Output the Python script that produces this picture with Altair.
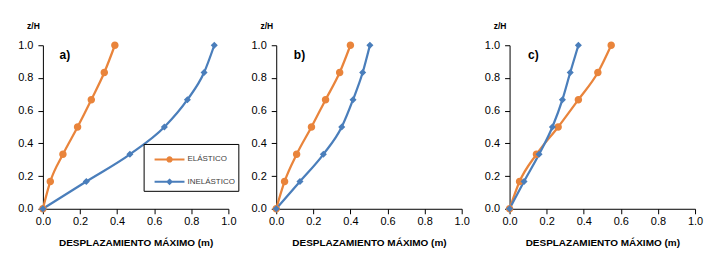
import altair as alt
import pandas as pd

# ---------------- data ----------------
z_levels = [0.0, 0.167, 0.333, 0.5, 0.667, 0.833, 1.0]
series_names = ["ELÁSTICO", "INELÁSTICO"]
panel_labels = ["a)", "b)", "c)"]

elastic_a = [0.0, 0.040, 0.108, 0.187, 0.261, 0.331, 0.388]
inelastic_a = [0.0, 0.234, 0.469, 0.655, 0.779, 0.869, 0.924]
elastic_b = [0.0, 0.045, 0.110, 0.190, 0.266, 0.342, 0.400]
inelastic_b = [0.0, 0.128, 0.254, 0.353, 0.414, 0.466, 0.505]
elastic_c = [0.0, 0.054, 0.145, 0.262, 0.371, 0.476, 0.548]
inelastic_c = [0.0, 0.078, 0.159, 0.231, 0.285, 0.327, 0.371]

label_x = [0.09, 0.095, 0.10]
label_y = [0.94, 0.94, 0.94]

axis_ticks = [0.0, 0.2, 0.4, 0.6, 0.8, 1.0]
x_title = "DESPLAZAMIENTO MÁXIMO (m)"
y_title = "z/H"

# ---------------- styles ----------------
colors = ["#E9843B", "#4A7EBB"]
FONT = "Liberation Sans"
# marker symbols: horizontal segment (only visible when stroked, i.e. in the legend) + marker
circle_path = "M-1.25,0H1.25M0.18,0A0.18,0.18,0,1,1,-0.18,0A0.18,0.18,0,1,1,0.18,0Z"
diamond_path = "M-1.25,0H1.25M0,-0.17L0.17,0L0,0.17L-0.17,0Z"

panels_data = [
    (elastic_a, inelastic_a),
    (elastic_b, inelastic_b),
    (elastic_c, inelastic_c),
]

x_axis = alt.Axis(
    values=axis_ticks, format=".1f", title=x_title, grid=False,
    tickSize=5, labelPadding=2, labelFont=FONT, labelFontSize=11,
    labelColor="#000000", domainColor="#000000", tickColor="#000000",
    titleFont=FONT, titleFontSize=10, titleFontWeight="bold",
    titleColor="#000000", titlePadding=11, labelFlush=False,
    labelOverlap=False,
)
y_axis = alt.Axis(
    values=axis_ticks, format=".1f", title=y_title, grid=False,
    tickSize=5, labelPadding=5, labelFont=FONT, labelFontSize=11,
    labelColor="#000000", domainColor="#000000", tickColor="#000000",
    titleFont=FONT, titleFontSize=8.5, titleFontWeight="bold",
    titleColor="#000000", titleAngle=0, titleX=-10, titleY=-20,
    titleAlign="center", titleBaseline="middle", labelFlush=False,
    labelOverlap=False,
)
unit_scale = alt.Scale(domain=[0, 1], nice=False)


def make_panel(i, show_legend):
    el, inel = panels_data[i]
    rows = []
    for name, vals in zip(series_names, [el, inel]):
        for zz, v in zip(z_levels, vals):
            rows.append({"serie": name, "linea": name, "z": zz, "d": v})
    df = pd.DataFrame(rows)

    color_scale = alt.Scale(domain=series_names, range=colors)
    shape_scale = alt.Scale(domain=series_names, range=[circle_path, diamond_path])

    if show_legend:
        leg = alt.Legend(
            orient="none", legendX=101, legendY=99, title=None,
            strokeColor="#000000", padding=2.5, symbolSize=576,
            symbolStrokeWidth=2, symbolOffset=10.5, labelOffset=5,
            rowPadding=2.5, labelFont=FONT, labelFontSize=8,
            labelColor="#404040", symbolFillColor="#888888",
            symbolStrokeColor="#888888", fillColor="#FFFFFF",
        )
    else:
        leg = None

    base = alt.Chart(df)
    line = base.mark_line(interpolate="monotone", strokeWidth=2.25).encode(
        x=alt.X("d:Q", scale=unit_scale, axis=x_axis),
        y=alt.Y("z:Q", scale=unit_scale, axis=y_axis),
        color=alt.Color("linea:N", scale=color_scale, legend=None),
        order="z:Q",
    )
    points = base.mark_point(filled=True, opacity=1).encode(
        x=alt.X("d:Q", scale=unit_scale, axis=x_axis),
        y=alt.Y("z:Q", scale=unit_scale, axis=y_axis),
        fill=alt.Fill("serie:N", scale=color_scale, legend=leg),
        stroke=alt.Stroke("serie:N", scale=color_scale, legend=leg),
        shape=alt.Shape("serie:N", scale=shape_scale, legend=leg),
        strokeWidth=alt.value(0),
        size=alt.value(1736),
    )
    lab_df = pd.DataFrame({"t": [panel_labels[i]], "d": [label_x[i]], "z": [label_y[i]]})
    label = alt.Chart(lab_df).mark_text(
        align="left", baseline="middle", font=FONT, fontSize=12,
        fontWeight="bold", color="#000000",
    ).encode(
        x=alt.X("d:Q", scale=unit_scale, axis=x_axis),
        y=alt.Y("z:Q", scale=unit_scale, axis=y_axis),
        text="t:N",
    )
    return (
        alt.layer(line, points, label)
        .resolve_scale(color="independent")
        .resolve_legend(color="independent")
        .properties(width=186, height=164)
    )


chart = alt.hconcat(
    make_panel(0, True), make_panel(1, False), make_panel(2, False),
    spacing=48, bounds="flush",
).resolve_scale(
    color="independent", fill="independent", stroke="independent", shape="independent",
).resolve_legend(
    color="independent", fill="independent", stroke="independent", shape="independent",
).properties(
    padding={"left": 8, "top": 13, "right": 5, "bottom": 5},
    background="#FFFFFF",
).configure_view(stroke=None)

chart.save("out.html", embed_options={"renderer": "svg", "actions": False})
